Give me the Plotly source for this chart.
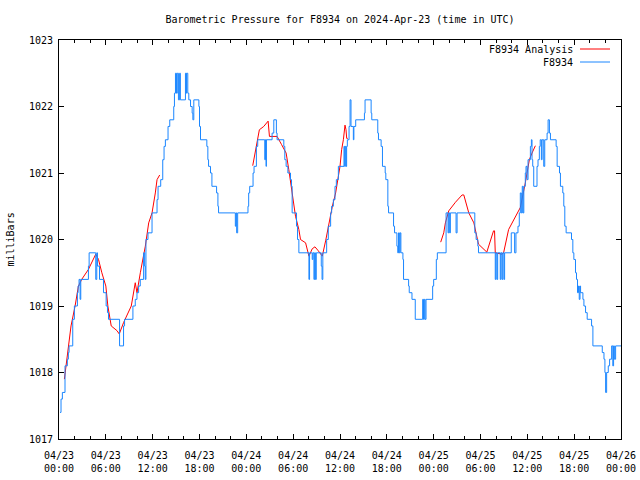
import pandas as pd
import plotly.graph_objects as go

BASE = pd.Timestamp("2024-04-23 00:00")

# F8934 observations: hours after 2024-04-23 00:00 UTC, pressure (mbar)
obs_hours = [0.13, 0.26, 0.43, 0.77, 1.07, 1.2, 1.29, 1.76, 1.97, 2.36, 2.45, 2.57, 2.7, 2.79, 3.77, 3.86,
             4.71, 4.84, 4.93, 5.19, 5.7, 6.04, 6.21, 6.34, 7.76, 8.27, 8.4, 9.47, 9.77, 9.99, 10.2, 10.41,
             10.84, 10.97, 11.05, 11.14, 11.4, 11.92, 12.56, 12.69, 13.03, 13.29, 13.46, 13.63, 13.97, 14.19,
             14.7, 14.79, 14.92, 15.05, 15.15, 15.3, 15.45, 15.55, 16.2, 16.3, 16.35, 16.5, 16.63, 16.85,
             17.06, 17.15, 17.27, 17.92, 18.0, 18.13, 18.94, 19.07, 19.16, 19.41, 19.59, 20.19, 20.36, 20.44,
             22.59, 22.68, 22.76, 22.89, 24.21, 24.3, 24.43, 24.86, 24.99, 25.29, 25.46, 26.36, 26.45, 26.53,
             26.57, 27.3, 27.52, 27.85, 27.94, 28.8, 28.93, 29.1, 29.32, 29.66, 29.79, 29.87, 30.43, 30.56,
             30.73, 32.02, 32.1, 32.44, 32.53, 32.66, 32.75, 32.85, 32.96, 33.6, 33.7, 33.8, 34.29, 34.5,
             34.8, 34.93, 35.15, 35.36, 35.53, 35.79, 36.51, 36.6, 36.68, 36.77, 36.85, 36.94, 37.16, 37.29,
             37.41, 37.71, 37.78, 38.01, 39.13, 39.21, 39.99, 40.07, 40.84, 40.93, 41.27, 41.44, 41.79, 41.87,
             42.13, 42.22, 42.86, 42.99, 43.29, 43.4, 43.5, 43.6, 43.7, 43.8, 44.06, 44.14, 44.79, 44.87,
             45.22, 45.64, 46.59, 46.7, 46.8, 46.9, 47.02, 47.87, 48.0, 48.34, 48.47, 49.59, 49.84, 49.93,
             50.05, 50.14, 50.87, 51.0, 53.27, 53.44, 53.66, 53.74, 55.89, 55.97, 56.1, 56.2, 56.53, 56.62,
             56.75, 56.85, 57.0, 57.09, 57.94, 58.37, 58.54, 58.8, 58.97, 59.1, 59.23, 59.35, 59.45, 59.55,
             59.74, 59.83, 59.96, 60.09, 60.39, 60.52, 60.6, 60.69, 60.82, 61.24, 61.37, 61.54, 61.65, 61.8,
             61.89, 62.1, 62.23, 62.53, 62.66, 62.83, 62.96, 63.69, 63.82, 64.12, 64.24, 64.54, 64.67, 64.8,
             64.97, 65.66, 65.83, 65.96, 66.17, 66.3, 66.43, 66.55, 66.65, 66.75, 66.82, 67.12, 67.25, 67.46,
             67.67, 68.23, 68.4, 69.6, 69.82, 69.94, 70.03, 70.16, 70.37, 70.54, 70.8, 70.95, 71.05, 71.15,
             71.31, 72.0]
obs_mbar = [1017.4, 1017.6, 1017.7, 1018.1, 1018.2, 1018.3, 1018.4, 1018.8, 1019.0, 1019.2, 1019.3, 1019.4, 1019.1, 1019.4, 1019.6, 1019.8,
            1019.4, 1019.8, 1019.6, 1019.4, 1019.2, 1019.0, 1018.9, 1018.8, 1018.4, 1018.7, 1018.8, 1019.0, 1019.1, 1019.2, 1019.3, 1019.4,
            1019.8, 1019.6, 1019.4, 1020.0, 1020.1, 1020.4, 1020.6, 1020.8, 1020.9, 1021.2, 1021.4, 1021.5, 1021.7, 1021.8,
            1022.0, 1022.2, 1022.5, 1022.2, 1022.5, 1022.1, 1022.5, 1022.1, 1022.5, 1022.2, 1022.5, 1022.2, 1022.1, 1022.0,
            1021.9, 1021.8, 1022.1, 1022.0, 1021.7, 1021.5, 1021.4, 1021.2, 1021.1, 1021.0, 1020.8, 1020.7, 1020.5, 1020.4,
            1020.2, 1020.4, 1020.1, 1020.4, 1020.5, 1020.7, 1020.8, 1021.0, 1021.1, 1021.4, 1021.5, 1021.2, 1021.5, 1021.1,
            1021.5, 1021.6, 1021.8, 1021.6, 1021.5, 1021.4, 1021.2, 1021.1, 1021.0, 1020.9, 1020.8, 1020.4, 1020.2, 1020.0,
            1019.8, 1019.4, 1019.8, 1019.7, 1019.8, 1019.4, 1019.8, 1019.4, 1019.8, 1019.6, 1019.4, 1019.8, 1020.0, 1020.2,
            1020.4, 1020.5, 1020.6, 1020.8, 1020.9, 1021.1, 1021.4, 1021.1, 1021.4, 1021.1, 1021.4, 1021.5, 1021.7, 1022.1,
            1021.7, 1021.5, 1021.7, 1021.8, 1021.9, 1022.1, 1021.9, 1021.8, 1021.6, 1021.5, 1021.4, 1021.1, 1021.0, 1020.9,
            1020.5, 1020.4, 1020.2, 1020.1, 1019.9, 1019.8, 1020.1, 1019.8, 1020.1, 1019.8, 1019.7, 1019.4, 1019.3, 1019.2,
            1019.1, 1018.8, 1019.1, 1018.8, 1019.1, 1018.8, 1019.1, 1019.3, 1019.4, 1019.7, 1019.8, 1020.4, 1020.1, 1020.4,
            1020.1, 1020.4, 1020.1, 1020.4, 1020.1, 1020.0, 1019.9, 1019.8, 1019.4, 1019.8, 1019.4, 1019.8, 1019.4, 1019.8,
            1019.4, 1019.8, 1019.4, 1019.8, 1020.1, 1019.8, 1020.1, 1020.2, 1020.4, 1020.7, 1020.4, 1020.8, 1020.4, 1020.8,
            1021.0, 1021.1, 1020.9, 1021.2, 1021.4, 1021.5, 1021.2, 1021.1, 1020.8, 1021.1, 1021.2, 1021.4, 1021.5, 1021.2,
            1021.5, 1021.1, 1021.5, 1021.6, 1021.8, 1021.6, 1021.5, 1021.4, 1021.1, 1021.0, 1020.8, 1020.7, 1020.5, 1020.2,
            1020.1, 1020.0, 1019.8, 1019.7, 1019.5, 1019.4, 1019.2, 1019.3, 1019.1, 1019.3, 1019.2, 1019.1, 1019.0, 1018.9,
            1018.8, 1018.7, 1018.4, 1018.3, 1018.2, 1018.0, 1017.7, 1018.0, 1018.1, 1018.2, 1018.4, 1018.1, 1018.4, 1018.2,
            1018.4, 1018.4]

# F8934 Analysis: hours, pressure; None separates segments
ana_hours = [0.69, 0.99, 1.2, 1.54, 2.06, 2.49, 2.91, 3.77, 4.71, 5.06, 5.49, 6.0, 6.26, 6.69, 7.42, 7.72,
             8.27, 8.92, 9.26, 9.77, 9.99, 10.42, 11.06, 11.49, 11.92, 12.34, 12.56, 12.9, None,
             24.82, 25.24, 25.67, 26.23, 26.79, 26.96, 27.94, 28.5, 29.1, 29.44, 29.87, 30.3, 30.73, 30.94,
             31.59, 32.02, 32.44, 32.79, 33.22, 33.73, 34.16, 34.59, 35.02, 35.44, 35.79, 36.0, 36.21, 36.43,
             36.64, 36.77, 36.86, 36.99, None,
             48.9, 49.29, 49.5, 49.93, 50.79, 51.64, 51.86, 52.5, 53.15, 53.74, 54.81, 55.67, 55.8, 55.89,
             56.74, 56.96, 57.6, 58.46, 59.1, 59.74, 60.26, 60.6, 61.03]
ana_mbar = [1017.9, 1018.2, 1018.4, 1018.7, 1019.0, 1019.3, 1019.4, 1019.55, 1019.78, 1019.7, 1019.5, 1019.3, 1019.0, 1018.7, 1018.63, 1018.58,
            1018.75, 1018.9, 1019.0, 1019.35, 1019.2, 1019.5, 1019.9, 1020.25, 1020.4, 1020.7, 1020.9, 1020.97, None,
            1021.11, 1021.4, 1021.65, 1021.7, 1021.78, 1021.55, 1021.55, 1021.43, 1021.3, 1021.05, 1020.7, 1020.35, 1020.15, 1020.0,
            1019.95, 1019.75, 1019.86, 1019.89, 1019.83, 1019.75, 1019.98, 1020.25, 1020.5, 1020.7, 1020.95, 1021.1, 1021.35, 1021.5,
            1021.72, 1021.65, 1021.52, 1021.52, None,
            1019.96, 1020.1, 1020.25, 1020.43, 1020.56, 1020.67, 1020.67, 1020.4, 1020.25, 1019.93, 1019.81, 1020.13, 1020.13, 1019.8,
            1019.78, 1019.8, 1020.15, 1020.35, 1020.48, 1020.85, 1021.2, 1021.3, 1021.41]

tick_hours = list(range(0, 73, 6))
tick_labels = ["04/23<br>00:00", "04/23<br>06:00", "04/23<br>12:00", "04/23<br>18:00",
               "04/24<br>00:00", "04/24<br>06:00", "04/24<br>12:00", "04/24<br>18:00",
               "04/25<br>00:00", "04/25<br>06:00", "04/25<br>12:00", "04/25<br>18:00",
               "04/26<br>00:00"]
y_ticks = [1017, 1018, 1019, 1020, 1021, 1022, 1023]


def to_time(hours):
    return [None if h is None else BASE + pd.Timedelta(hours=h) for h in hours]


RED = "#ff0000"
BLUE = "#1a86ff"
FONT = "DejaVu Sans Mono"

fig = go.Figure()
fig.add_trace(go.Scatter(x=to_time(ana_hours), y=ana_mbar, mode="lines", name="F8934 Analysis",
                         line=dict(color=RED, width=1), connectgaps=False))
fig.add_trace(go.Scatter(x=to_time(obs_hours), y=obs_mbar, mode="lines", name="F8934",
                         line=dict(color=BLUE, width=1, shape="hv")))

L, R, T, B = 59, 621, 40, 439
W, H = 640, 480


def px(x):
    return (x - L) / (R - L)


def py(y):
    return (B - y) / (B - T)


# gnuplot-style legend (text left of the sample line)
legend_items = [("F8934 Analysis", RED, 49), ("F8934", BLUE, 62)]
for label, col, yy in legend_items:
    fig.add_annotation(x=px(575), y=py(yy), xref="paper", yref="paper", text=label, showarrow=False,
                       xanchor="right", yanchor="middle", font=dict(family=FONT, size=10, color="black"))
    fig.add_shape(type="line", xref="paper", yref="paper", x0=px(580), x1=px(610), y0=py(yy), y1=py(yy),
                  line=dict(color=col, width=1))

fig.add_annotation(x=px(10), y=0.5, xref="paper", yref="paper", text="milliBars", textangle=-90,
                   showarrow=False, xanchor="center", yanchor="middle",
                   font=dict(family=FONT, size=10, color="black"))

fig.update_layout(
    width=W, height=H,
    margin=dict(l=L, r=W - R, t=T, b=H - B, autoexpand=False),
    paper_bgcolor="white", plot_bgcolor="white",
    showlegend=False,
    font=dict(family=FONT, size=10, color="black"),
    title=dict(text="Barometric Pressure for F8934 on 2024-Apr-23 (time in UTC)",
               x=px(340), xref="paper", xanchor="center", y=1 - 19 / H, yref="container", yanchor="middle",
               font=dict(family=FONT, size=10, color="black")),
)
fig.update_xaxes(
    type="date", automargin=False,
    range=[BASE, BASE + pd.Timedelta(hours=72)],
    tickvals=to_time(tick_hours), ticktext=tick_labels,
    ticks="inside", ticklen=5, tickcolor="black", tickwidth=1, ticklabelstandoff=7,
    minor=dict(dtick=2 * 3600 * 1000, ticks="inside", ticklen=3, tickcolor="black", showgrid=False),
    showline=True, linecolor="black", linewidth=1, mirror="ticks",
    showgrid=False, zeroline=False,
    tickfont=dict(family=FONT, size=10, color="black"),
)
fig.update_yaxes(
    automargin=False,
    range=[1017, 1023], tickvals=y_ticks, ticktext=[str(v) for v in y_ticks],
    ticks="inside", ticklen=5, tickcolor="black", tickwidth=1, ticklabelstandoff=3,
    showline=True, linecolor="black", linewidth=1, mirror="ticks",
    showgrid=False, zeroline=False,
    tickfont=dict(family=FONT, size=10, color="black"),
)

fig.write_html("out.html", config={"displayModeBar": False},
               post_script="document.body.style.margin='0';")
